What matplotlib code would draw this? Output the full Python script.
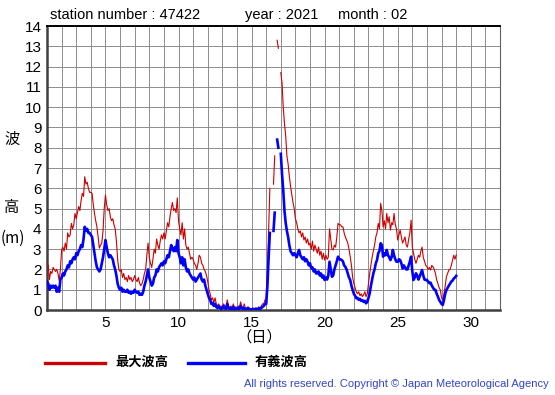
import numpy as np
import matplotlib
matplotlib.use("Agg")
import matplotlib.pyplot as plt

plt.rcParams["font.family"] = ["Liberation Sans", "Noto Sans CJK JP", "DejaVu Sans"]

station = "47422"
year = "2021"
month = "02"

# 2-hourly samples, day 1.0 .. 29.0 (one row = one day); nan = missing
max_wave = [
    2.3, 2.2, 1.5, 1.9, 1.8, 2.1, 2.0, 1.9, 2.0, 1.8, 1.45, 2.0,
    2.96, 3.1, 2.9, 3.3, 3.0, 3.8, 3.6, 3.7, 4.27, 4.0, 4.2, 4.76,
    4.5, 4.8, 5.1, 4.9, 5.4, 5.75, 5.6, 6.57, 6.2, 6.3, 6.0, 5.8,
    5.8, 5.75, 5.2, 4.76, 4.4, 4.1, 3.6, 3.05, 3.2, 3.3, 3.9, 5.0,
    5.67, 5.2, 4.9, 5.0, 4.6, 4.4, 4.5, 4.2, 4.0, 3.4, 2.5, 2.0,
    1.9, 2.0, 1.6, 1.8, 1.5, 1.6, 1.4, 1.7, 1.5, 1.6, 1.4, 1.5,
    1.7, 1.5, 1.4, 1.6, 1.33, 1.2, 1.3, 1.5, 1.8, 2.0, 2.7, 3.3,
    2.6, 2.3, 2.1, 2.5, 3.0, 2.8, 3.5, 3.2, 3.0, 3.4, 3.7, 3.5,
    3.8, 3.5, 3.9, 4.3, 4.1, 4.6, 5.0, 5.3, 4.9, 5.0, 4.8, 5.53,
    4.4, 4.0, 3.7, 4.3, 3.5, 4.0, 3.2, 3.0, 3.1, 2.8, 2.5, 2.6,
    2.5, 2.3, 2.2, 2.0, 2.3, 2.7, 2.6, 2.3, 2.2, 2.0, 1.9, 1.7,
    1.4, 1.0, 0.8, 0.5, 0.6, 0.35, 0.6, 0.3, 0.2, 0.3, 0.15, 0.2,
    0.15, 0.3, 0.2, 0.1, 0.5, 0.2, 0.1, 0.2, 0.1, 0.3, 0.1, 0.15,
    0.1, 0.2, 0.1, 0.4, 0.15, 0.1, 0.3, 0.05, 0.1, 0.15, 0.1, 0.05,
    0.05, 0.1, 0.05, 0.1, 0.1, 0.05, 0.15, 0.1, 0.2, 0.3, 0.3, 0.5,
    0.6, 2.0, 3.9, 6.0, np.nan, np.nan, 6.2, 7.6, np.nan, 13.3, 12.9, np.nan,
    11.7, 11.2, 10.0, 9.2, 8.6, 7.6, 7.2, 6.6, 6.1, 5.7, 5.3, 5.0,
    4.5, 4.3, 4.0, 3.8, 3.9, 3.6, 3.8, 3.45, 3.6, 3.3, 3.5, 3.2,
    3.3, 3.0, 3.4, 2.9, 3.2, 3.0, 2.8, 3.1, 2.7, 2.9, 2.5, 2.8,
    2.46, 2.7, 2.5, 2.6, 4.0, 3.5, 3.0, 2.96, 3.2, 3.1, 3.6, 4.27,
    4.2, 4.2, 4.1, 4.1, 3.8, 3.6, 3.45, 3.3, 3.0, 2.63, 2.2, 1.6,
    1.3, 1.1, 0.9, 0.8, 0.9, 0.7, 0.8, 0.66, 0.75, 0.9, 0.66, 0.8,
    1.3, 1.8, 2.2, 2.6, 2.9, 3.2, 3.6, 3.8, 4.27, 4.0, 5.26, 4.9,
    4.1, 4.4, 4.0, 4.76, 4.3, 4.6, 3.94, 4.3, 4.2, 4.76, 4.2, 4.0,
    3.45, 3.7, 3.94, 3.6, 3.3, 3.45, 3.6, 3.2, 3.1, 3.5, 3.8, 4.43,
    3.1, 2.8, 2.5, 2.3, 2.5, 2.7, 2.6, 2.9, 3.1, 2.6, 2.4, 2.2,
    2.13, 2.0, 2.1, 1.97, 2.2, 2.13, 2.0, 1.8, 1.48, 1.3, 1.1, 0.99,
    0.6, 0.49, 0.8, 1.2, 1.64, 1.8, 1.97, 2.0, 2.2, 2.46, 2.7, 2.5,
    2.71,
]

sig_wave = [
    1.4, 1.3, 1.0, 1.2, 1.1, 1.2, 1.1, 1.2, 0.9, 1.1, 0.9, 1.5,
    1.6, 1.8, 1.7, 1.9, 2.0, 2.2, 2.1, 2.4, 2.3, 2.5, 2.6, 2.5,
    2.8, 2.7, 2.9, 3.0, 3.2, 3.1, 3.5, 4.1, 3.9, 4.0, 3.8, 3.8,
    3.7, 3.6, 3.2, 2.8, 2.4, 2.1, 2.0, 1.9, 2.0, 2.3, 2.6, 3.0,
    3.45, 3.1, 2.8, 2.6, 2.7, 2.6, 2.5, 2.2, 2.0, 1.7, 1.3, 1.1,
    1.0, 1.1, 0.9, 1.0, 0.9, 0.9, 1.0, 0.85, 0.9, 0.8, 0.9, 0.85,
    1.0, 0.9, 0.85, 0.9, 0.75, 0.8, 0.75, 0.9, 1.2, 1.4, 1.7, 2.0,
    1.6, 1.4, 1.2, 1.3, 1.6, 1.7, 2.0, 1.9, 2.1, 2.2, 2.3, 2.2,
    2.4, 2.3, 2.5, 2.7, 2.6, 2.9, 3.2, 3.0, 2.9, 3.1, 2.9, 3.45,
    2.8, 2.6, 2.3, 2.6, 2.2, 2.5, 2.1, 1.9, 2.0, 1.8, 1.7, 1.6,
    1.5, 1.6, 1.4, 1.5, 1.6, 1.7, 1.8, 1.5, 1.4, 1.5, 1.2, 1.0,
    0.8, 0.6, 0.5, 0.3, 0.35, 0.2, 0.3, 0.15, 0.1, 0.2, 0.1, 0.05,
    0.1, 0.2, 0.1, 0.05, 0.3, 0.1, 0.05, 0.1, 0.05, 0.15, 0.05, 0.1,
    0.05, 0.1, 0.05, 0.2, 0.1, 0.05, 0.1, 0.02, 0.05, 0.1, 0.05, 0.02,
    0.02, 0.05, 0.02, 0.05, 0.05, 0.02, 0.1, 0.05, 0.1, 0.15, 0.2, 0.3,
    0.3, 1.2, 2.6, 3.8, np.nan, np.nan, 3.9, 4.8, np.nan, 8.4, 8.0, np.nan,
    7.7, 6.7, 5.9, 4.9, 4.3, 3.9, 3.6, 3.2, 2.9, 2.8, 2.7, 2.8,
    2.7, 2.6, 2.8, 2.96, 2.7, 2.6, 2.5, 2.6, 2.4, 2.5, 2.38, 2.2,
    2.3, 2.05, 2.1, 1.9, 2.0, 1.8, 1.81, 1.9, 1.7, 1.8, 1.6, 1.7,
    1.48, 1.6, 1.5, 1.7, 2.38, 2.0, 1.64, 1.7, 2.0, 2.2, 2.4, 2.63,
    2.5, 2.5, 2.46, 2.4, 2.2, 2.13, 2.0, 1.8, 1.6, 1.48, 1.2, 0.99,
    0.8, 0.7, 0.58, 0.6, 0.5, 0.55, 0.45, 0.49, 0.4, 0.45, 0.33, 0.4,
    0.6, 0.82, 1.2, 1.5, 1.81, 2.0, 2.3, 2.46, 2.8, 2.9, 3.29, 3.2,
    2.63, 2.8, 2.7, 2.96, 2.7, 2.6, 2.46, 2.6, 2.96, 2.7, 2.5, 2.38,
    2.38, 2.5, 2.46, 2.3, 2.05, 2.2, 2.1, 2.0, 2.0, 2.2, 2.4, 2.63,
    1.9, 1.48, 1.6, 1.81, 1.7, 1.5, 1.64, 1.8, 1.97, 1.7, 1.5, 1.48,
    1.48, 1.4, 1.32, 1.35, 1.2, 1.1, 1.0, 0.99, 0.8, 0.66, 0.5, 0.4,
    0.3, 0.25, 0.5, 0.8, 0.99, 1.1, 1.2, 1.3, 1.4, 1.45, 1.55, 1.6,
    1.68,
]

x_ticks = [5, 10, 15, 20, 25, 30]
y_ticks = list(range(0, 15))

day = 1 + np.arange(len(max_wave)) / 12.0   # sample times (2 h step)

RED = "#cc0000"
BLUE = "#0000ff"

fig = plt.figure(figsize=(5.55, 3.95), dpi=100)
ax = fig.add_axes([47 / 555, 1 - 310 / 395, 453 / 555, 284 / 395])

ax.plot(day, max_wave, color=RED, lw=0.8, zorder=3)
ax.plot(day, sig_wave, color=BLUE, lw=1.9, zorder=4)

ax.set_xlim(1, 32)
ax.set_ylim(0, 14)
ax.set_yticks(y_ticks)
ax.set_xticks(x_ticks)
ax.set_xticks(range(1, 33), minor=True)
ax.grid(True, color="#8c8c8c", lw=0.7)
ax.grid(True, which="minor", axis="x", color="#8c8c8c", lw=0.7)
ax.set_axisbelow(True)
ax.tick_params(length=0, labelsize=11, pad=4)
ax.tick_params(which="minor", length=0)

for side in ("left", "bottom"):
    ax.spines[side].set_linewidth(1.8)
    ax.spines[side].set_color("#404040")
ax.spines["top"].set_linewidth(1.4)
ax.spines["top"].set_color("black")
ax.spines["right"].set_linewidth(0.8)
ax.spines["right"].set_color("#606060")

# header and axis captions
fig.text(50 / 555, 1 - 15 / 395, f"station number : {station}", fontsize=10.5, va="center")
fig.text(245 / 555, 1 - 15 / 395, f"year : {year}", fontsize=10.5, va="center")
fig.text(338 / 555, 1 - 15 / 395, f"month : {month}", fontsize=10.5, va="center")
fig.text(12 / 555, 1 - 140 / 395, "波", fontsize=11, ha="center", va="center")
fig.text(12 / 555, 1 - 208 / 395, "高", fontsize=11, ha="center", va="center")
fig.text(1 / 555, 1 - 238 / 395, "(m)", fontsize=11, ha="left", va="center",
         family=["Noto Sans CJK JP", "DejaVu Sans"])
fig.text(259 / 555, 1 - 337 / 395, "（日）", fontsize=11, ha="center", va="center")

# legend drawn below the plot
fig.add_artist(plt.Line2D([45 / 555, 105 / 555], [1 - 363 / 395] * 2, color=RED, lw=2.4))
fig.text(115 / 555, 1 - 363 / 395, "最大波高", fontsize=9.5, fontweight="bold", va="center")
fig.add_artist(plt.Line2D([188 / 555, 245 / 555], [1 - 363 / 395] * 2, color=BLUE, lw=2.4))
fig.text(255 / 555, 1 - 363 / 395, "有義波高", fontsize=9.5, fontweight="bold", va="center")

fig.text(549 / 555, 1 - 384 / 395,
         "All rights reserved. Copyright © Japan Meteorological Agency",
         fontsize=8, color="#3344cc", ha="right", va="center")

fig.savefig("out.png", dpi=100)
